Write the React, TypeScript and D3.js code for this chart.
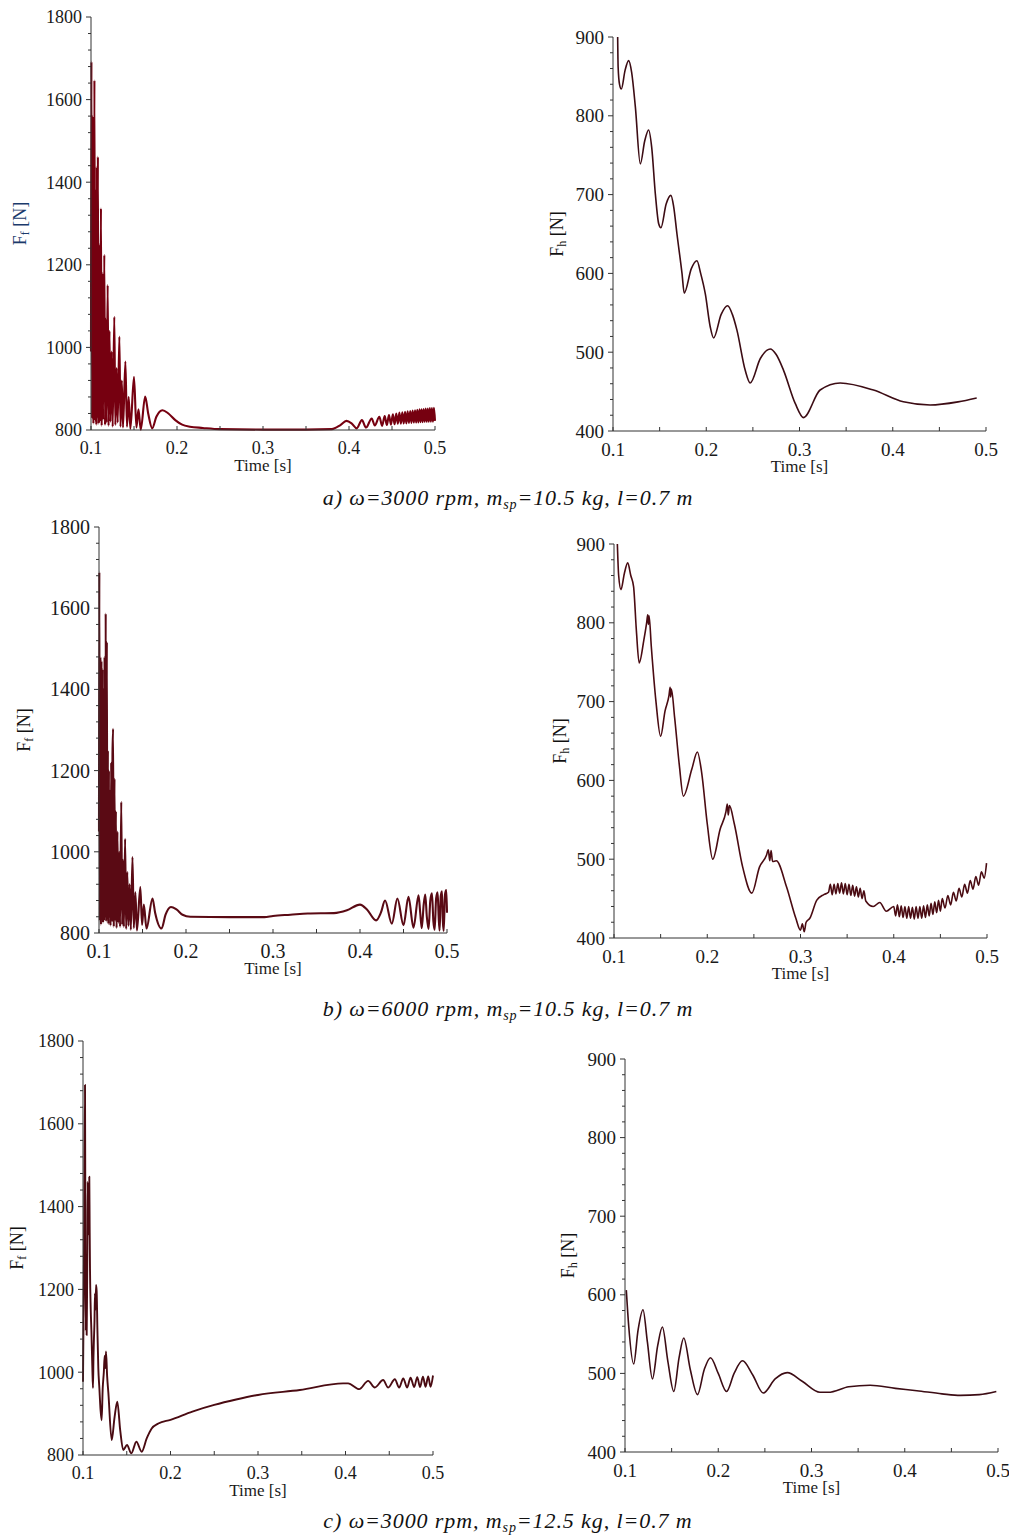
import * as d3 from "d3";

// ---- data: [time s, force N] ----
const ffA: [number, number][] = [
  [0.1, 990], [0.1005, 1692], [0.1013, 828], [0.102, 1560], [0.1028, 815],
  [0.104, 1647], [0.1048, 822], [0.1055, 1380], [0.1062, 812], [0.1068, 1437],
  [0.1074, 830], [0.108, 1462], [0.1088, 815], [0.1095, 1250], [0.1103, 820],
  [0.1116, 1337], [0.1124, 810], [0.1132, 1180], [0.114, 825], [0.1155, 1224],
  [0.1163, 812], [0.1171, 1070], [0.118, 818], [0.1194, 1151], [0.1204, 810],
  [0.1215, 1040], [0.1226, 820], [0.124, 990], [0.1252, 808], [0.1271, 1074],
  [0.1283, 812], [0.1297, 950], [0.131, 818], [0.133, 1026], [0.1343, 808],
  [0.1358, 920], [0.1372, 806], [0.14, 966], [0.1418, 808], [0.1438, 880],
  [0.1458, 803], [0.15, 929], [0.1528, 806], [0.1552, 850], [0.1578, 801],
  [0.163, 881], [0.1665, 840], [0.1712, 804], [0.176, 832], [0.183, 848],
  [0.19, 840], [0.198, 824], [0.206, 813], [0.215, 808], [0.23, 805],
  [0.25, 802], [0.3, 801], [0.35, 801], [0.38, 802], [0.39, 812],
  [0.397, 822], [0.403, 816], [0.409, 804], [0.415, 824], [0.4198, 806],
  [0.4264, 828], [0.43, 811], [0.4353, 832], [0.4385, 810], [0.4415, 834],
  [0.444, 812], [0.4465, 836], [0.4488, 813], [0.451, 838], [0.453, 814],
  [0.455, 840], [0.4568, 815], [0.4586, 842], [0.4603, 815], [0.462, 843],
  [0.4636, 816], [0.4652, 844], [0.4667, 816], [0.4682, 845], [0.4697, 817],
  [0.4712, 846], [0.4726, 817], [0.474, 847], [0.4754, 818], [0.4768, 848],
  [0.4781, 818], [0.4794, 849], [0.4807, 818], [0.482, 850], [0.4832, 819],
  [0.4844, 850], [0.4856, 819], [0.4868, 851], [0.488, 820], [0.4892, 852],
  [0.4904, 820], [0.4916, 852], [0.4928, 820], [0.494, 853], [0.4952, 820],
  [0.4964, 853], [0.4976, 820], [0.4988, 854], [0.5, 822],
];

const fhA: [number, number][] = [
  [0.105, 900], [0.1055, 862], [0.107, 840], [0.1089, 834], [0.113, 858], [0.1168, 870],
  [0.12, 855], [0.124, 811], [0.1293, 739], [0.134, 768], [0.1382, 782],
  [0.1415, 760], [0.1454, 701], [0.149, 663], [0.1514, 658], [0.157, 688], [0.1621, 699],
  [0.165, 685], [0.1686, 650], [0.174, 600], [0.1764, 575], [0.184, 606], [0.19, 616],
  [0.194, 600], [0.199, 574], [0.2043, 532], [0.2079, 518], [0.216, 548], [0.2229, 559],
  [0.228, 548], [0.2329, 528], [0.2418, 477], [0.2471, 461], [0.258, 492], [0.2686, 504],
  [0.275, 497], [0.2829, 477], [0.2954, 435], [0.3043, 417], [0.3221, 452], [0.3436, 461],
  [0.3793, 452], [0.4114, 437], [0.44, 433], [0.47, 437], [0.49, 442],
];

const ffB: [number, number][] = [
  [0.1, 1050], [0.1004, 1689], [0.101, 830], [0.1016, 1480], [0.1022, 820],
  [0.1028, 1470], [0.1034, 835], [0.104, 1450], [0.1046, 825], [0.1052, 1400],
  [0.1058, 830], [0.1064, 1480], [0.107, 840], [0.1077, 1587], [0.1083, 828],
  [0.109, 1517], [0.1096, 835], [0.1102, 1250], [0.1108, 822], [0.1114, 1200],
  [0.112, 840], [0.1126, 1150], [0.1132, 818], [0.114, 1220], [0.1148, 830],
  [0.1155, 1240], [0.1162, 1303], [0.117, 815], [0.1178, 1180], [0.1186, 830],
  [0.1194, 1100], [0.1202, 812], [0.1212, 1050], [0.1222, 825], [0.1232, 1000],
  [0.1242, 815], [0.1256, 1123], [0.1266, 820], [0.1276, 980], [0.1286, 815],
  [0.13, 1032], [0.1312, 810], [0.1325, 950], [0.1338, 818], [0.1352, 920],
  [0.1366, 808], [0.1385, 987], [0.14, 812], [0.1418, 900], [0.1436, 806],
  [0.1475, 913], [0.1495, 820], [0.1515, 870], [0.1546, 811], [0.1615, 885],
  [0.1645, 850], [0.1719, 811], [0.1765, 845], [0.1827, 864], [0.189, 858],
  [0.196, 845], [0.205, 840], [0.25, 839], [0.29, 839], [0.3, 842],
  [0.32, 845], [0.34, 848], [0.37, 849], [0.385, 856], [0.4, 870],
  [0.408, 858], [0.4185, 831], [0.424, 850], [0.4288, 880], [0.4366, 823],
  [0.443, 885], [0.45, 819], [0.4557, 889], [0.4615, 813], [0.4673, 893],
  [0.4692, 850], [0.471, 812], [0.4732, 870], [0.475, 895], [0.4768, 840],
  [0.4788, 810], [0.4808, 880], [0.4827, 898], [0.4843, 830], [0.4858, 808],
  [0.4875, 885], [0.4892, 900], [0.4904, 840], [0.4915, 806], [0.4928, 890],
  [0.4942, 903], [0.4952, 830], [0.4962, 805], [0.4977, 895], [0.4992, 906],
  [0.5, 850],
];

const fhB: [number, number][] = [
  [0.1036, 900], [0.105, 860], [0.1075, 842], [0.111, 862], [0.1147, 876],
  [0.118, 860], [0.121, 846], [0.124, 790], [0.127, 749], [0.132, 778],
  [0.135, 800], [0.1362, 810], [0.1369, 798], [0.1376, 809], [0.14, 770],
  [0.145, 700], [0.15, 656], [0.1547, 688], [0.159, 708], [0.1602, 718],
  [0.1608, 706], [0.1615, 716], [0.165, 680], [0.17, 620], [0.1744, 580],
  [0.1834, 614], [0.1894, 636], [0.194, 610], [0.2, 545], [0.2059, 500],
  [0.2138, 538], [0.22, 560], [0.2215, 570], [0.2225, 556], [0.2238, 568],
  [0.229, 545], [0.238, 490], [0.2478, 457], [0.256, 490], [0.2635, 505],
  [0.2655, 512], [0.267, 498], [0.2685, 511], [0.2700, 497], [0.274, 498],
  [0.285, 465], [0.295, 425], [0.3, 410], [0.302, 418], [0.304, 408],
  [0.306, 420], [0.31, 425], [0.3175, 448], [0.325, 455], [0.33, 458],
  [0.332, 468], [0.334, 455], [0.336, 468], [0.338, 456], [0.34, 469],
  [0.342, 457], [0.344, 470], [0.346, 456], [0.348, 469], [0.35, 455],
  [0.352, 468], [0.354, 454], [0.356, 467], [0.358, 453], [0.36, 465],
  [0.362, 452], [0.364, 463], [0.366, 450], [0.368, 460], [0.37, 447],
  [0.378, 440], [0.385, 445], [0.392, 434], [0.4, 440], [0.402, 428],
  [0.404, 442], [0.406, 427], [0.408, 441], [0.41, 426], [0.412, 440],
  [0.414, 425], [0.416, 440], [0.418, 425], [0.42, 439], [0.422, 424],
  [0.424, 440], [0.426, 425], [0.428, 440], [0.43, 425], [0.432, 441],
  [0.434, 426], [0.436, 442], [0.438, 428], [0.44, 444], [0.442, 430],
  [0.444, 446], [0.446, 432], [0.448, 448], [0.45, 434], [0.452, 450],
  [0.455, 438], [0.458, 454], [0.461, 442], [0.464, 458], [0.467, 447],
  [0.47, 463], [0.473, 452], [0.476, 468], [0.479, 457], [0.482, 473],
  [0.485, 462], [0.488, 478], [0.491, 467], [0.494, 484], [0.497, 476],
  [0.4995, 495],
];

const ffC: [number, number][] = [
  [0.1, 977], [0.1012, 1300], [0.1023, 1694], [0.1028, 1250], [0.1032, 1100],
  [0.1037, 1200], [0.1042, 1090], [0.1047, 1210], [0.105, 1300], [0.1054, 1460],
  [0.1058, 1330], [0.1062, 1420], [0.1067, 1340], [0.1072, 1472], [0.1076, 1350],
  [0.108, 1250], [0.1088, 1154], [0.1096, 1100], [0.1107, 1009], [0.1114, 962],
  [0.112, 1040], [0.1125, 1080], [0.1131, 1120], [0.1137, 1190], [0.1143, 1150],
  [0.1149, 1211], [0.1156, 1196], [0.1165, 1100], [0.1175, 1010], [0.1187, 962],
  [0.12, 910], [0.1213, 884], [0.1225, 960], [0.1238, 1000], [0.1248, 1040],
  [0.1256, 1010], [0.1263, 1050], [0.1276, 990], [0.129, 950], [0.1328, 836],
  [0.136, 890], [0.1392, 929], [0.1425, 860], [0.146, 812], [0.1503, 824],
  [0.1552, 804], [0.161, 832], [0.1671, 808], [0.1728, 840], [0.1785, 864],
  [0.1861, 876], [0.2, 885], [0.225, 905], [0.25, 921], [0.275, 934],
  [0.3, 945], [0.3478, 957], [0.3973, 973], [0.403, 973], [0.4156, 959],
  [0.4259, 979], [0.4335, 963], [0.443, 981], [0.4488, 963], [0.4564, 983],
  [0.4613, 963], [0.466, 985], [0.4705, 963], [0.4743, 987], [0.4785, 964],
  [0.482, 988], [0.4852, 964], [0.4885, 989], [0.4915, 965], [0.4945, 990],
  [0.4972, 965], [0.5, 992],
];

const fhC: [number, number][] = [
  [0.1014, 606], [0.104, 560], [0.1093, 512], [0.114, 555], [0.1193, 581],
  [0.124, 540], [0.1294, 493], [0.135, 535], [0.1401, 559], [0.146, 515],
  [0.1523, 477], [0.158, 520], [0.163, 545], [0.17, 505], [0.1777, 473],
  [0.185, 505], [0.1917, 520], [0.2, 500], [0.2089, 477], [0.217, 500],
  [0.226, 516], [0.237, 498], [0.2483, 475], [0.261, 493], [0.274, 501],
  [0.29, 490], [0.3091, 476], [0.318, 476], [0.34, 483], [0.3629, 485],
  [0.39, 481], [0.413, 478], [0.44, 474], [0.4596, 472], [0.48, 473],
  [0.4982, 477],
];

const timeTicks = [0.1, 0.2, 0.3, 0.4, 0.5];
const ffTicks = [800, 1000, 1200, 1400, 1600, 1800];
const fhTicks = [400, 500, 600, 700, 800, 900];

const captions = [
  { tag: "a)", omega: "3000", mass: "10.5" },
  { tag: "b)", omega: "6000", mass: "10.5" },
  { tag: "c)", omega: "3000", mass: "12.5" },
];

const FONT = "'Liberation Serif', 'Times New Roman', serif";

type PanelProps = {
  data: [number, number][];
  kind: "f" | "h";
  x0: number; x1: number; yTop: number; yBot: number;
  labelX: number;
  color: string;
  width?: number;
  labelColor?: string;
  tickSize?: number;
};

function Panel({ data, kind, x0, x1, yTop, yBot, labelX, color, width = 1.6, labelColor = "#111", tickSize = 19 }: PanelProps) {
  const yDomain = kind === "f" ? [800, 1800] : [400, 900];
  const yTicks = kind === "f" ? ffTicks : fhTicks;
  const minorStep = kind === "f" ? 40 : 20;
  const x = d3.scaleLinear([0.1, 0.5], [x0, x1]);
  const y = d3.scaleLinear(yDomain, [yBot, yTop]);
  const line = d3.line<[number, number]>()
    .x((d) => x(d[0]))
    .y((d) => y(d[1]))
    .curve(d3.curveMonotoneX);
  const minorY = d3.range(yDomain[0], yDomain[1] + 1, minorStep);
  const minorX = d3.range(0.1, 0.5001, 0.05);
  const midY = (yTop + yBot) / 2;
  return (
    <g fontFamily={FONT}>
      <path d={line(data) ?? ""} fill="none" stroke={color} strokeWidth={width} strokeLinejoin="round" />
      <line x1={x0} x2={x0} y1={yBot} y2={yTop} stroke="#333" strokeWidth={1} />
      <line x1={x0} x2={x1} y1={yBot} y2={yBot} stroke="#333" strokeWidth={1} />
      {minorY.map((v) => (
        <line key={"my" + v} x1={x0 - (yTicks.includes(v) ? 5 : 3)} x2={x0} y1={y(v)} y2={y(v)} stroke="#333" />
      ))}
      {minorX.map((v) => (
        <line key={"mx" + v} x1={x(v)} x2={x(v)} y1={yBot} y2={yBot - 4} stroke="#333" />
      ))}
      {yTicks.map((v) => (
        <text key={"ty" + v} x={x0 - 9} y={y(v)} dy="0.35em" textAnchor="end" fontSize={tickSize} fill="#1a1a1a">
          {v}
        </text>
      ))}
      {timeTicks.map((v) => (
        <text key={"tx" + v} x={x(v)} y={yBot + 18} dy="0.35em" textAnchor="middle" fontSize={tickSize} fill="#1a1a1a">
          {v}
        </text>
      ))}
      <text x={(x0 + x1) / 2} y={yBot + 35} dy="0.35em" textAnchor="middle" fontSize={17} fill="#1a1a1a">
        Time [s]
      </text>
      <text transform={`translate(${labelX},${midY}) rotate(-90)`} textAnchor="middle" dy="0.35em" fontSize={18} fill={labelColor}>
        F<tspan fontSize={12} dy={3}>{kind}</tspan>
        <tspan dy={-3}> [N]</tspan>
      </text>
    </g>
  );
}

export default function App() {
  const capY = [497, 1008, 1520];
  return (
    <svg width={1009} height={1535} style={{ position: "absolute", left: 0, top: 0, background: "#fff" }}>
      <rect width={1009} height={1535} fill="#fff" />
      <Panel data={ffA} kind="f" x0={91} x1={435} yTop={17} yBot={430} labelX={20} color="#760010" width={2.1} labelColor="#1b3a6b" tickSize={18} />
      <Panel data={fhA} kind="h" x0={613} x1={986} yTop={37} yBot={431} labelX={557} color="#3c0c14" />
      <Panel data={ffB} kind="f" x0={99} x1={447} yTop={527} yBot={933} labelX={24} color="#5a0a14" width={2.1} tickSize={20} />
      <Panel data={fhB} kind="h" x0={614} x1={987} yTop={544} yBot={938} labelX={560} color="#4a0b12" />
      <Panel data={ffC} kind="f" x0={83} x1={433} yTop={1041} yBot={1455} labelX={17} color="#4a0b12" width={1.9} tickSize={18} />
      <Panel data={fhC} kind="h" x0={625} x1={998} yTop={1059} yBot={1452} labelX={568} color="#3c0c14" />
      {captions.map((c, i) => (
        <text key={c.tag} x={508} y={capY[i]} dy="0.35em" textAnchor="middle" fontFamily={FONT} fontStyle="italic" fontSize={22} letterSpacing={0.9} fill="#111">
          {c.tag} ω={c.omega} rpm, m<tspan fontSize={14} dy={4}>sp</tspan>
          <tspan dy={-4}>={c.mass} kg, l=0.7 m</tspan>
        </text>
      ))}
    </svg>
  );
}
